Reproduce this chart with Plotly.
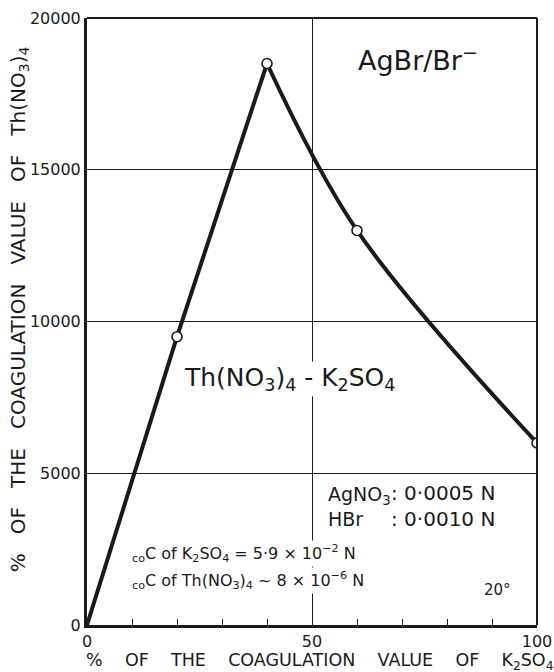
import plotly.graph_objects as go

# data
k2so4_pct = [0, 20, 40, 60, 100]
th_pct = [0, 9500, 18500, 13000, 6000]

x_ticks = [0, 50, 100]
y_ticks = [0, 5000, 10000, 15000, 20000]

FONT = "DejaVu Sans"
INK = "#1a1a1a"
SP3 = "&nbsp;" * 3
SP4 = "&nbsp;" * 4

fig = go.Figure()

# rising (straight) branch
fig.add_trace(go.Scatter(
    x=k2so4_pct[:3], y=th_pct[:3], mode="lines",
    line=dict(color=INK, width=4),
    hoverinfo="skip", showlegend=False))
# falling (curved) branch
fig.add_trace(go.Scatter(
    x=k2so4_pct[2:], y=th_pct[2:], mode="lines",
    line=dict(color=INK, width=4, shape="spline", smoothing=1.0),
    hoverinfo="skip", showlegend=False))

fig.add_trace(go.Scatter(
    x=k2so4_pct[1:], y=th_pct[1:], mode="markers",
    marker=dict(symbol="circle", size=10, color="white",
                line=dict(color=INK, width=1.6)),
    showlegend=False))

fig.update_xaxes(
    range=[0, 100], tickvals=x_ticks, ticktext=[str(v) for v in x_ticks],
    showgrid=True, gridcolor=INK, gridwidth=1.2,
    showline=True, linecolor=INK, linewidth=3,
    ticks="", zeroline=False, automargin=False,
    minor=dict(dtick=10, ticks="inside", ticklen=6, tickcolor=INK, tickwidth=1.3, showgrid=False),
    tickfont=dict(family=FONT, size=16, color=INK))
fig.update_yaxes(
    range=[0, 20000], tickvals=y_ticks, ticktext=[str(v) for v in y_ticks],
    showgrid=True, gridcolor=INK, gridwidth=1.2,
    showline=True, linecolor=INK, linewidth=3,
    ticks="", zeroline=False, automargin=False,
    tickfont=dict(family=FONT, size=16, color=INK))

# top & right frame lines
fig.add_shape(type="line", xref="paper", yref="paper", x0=0, x1=1, y0=1, y1=1,
              line=dict(color=INK, width=2))
fig.add_shape(type="line", xref="paper", yref="paper", x0=1, x1=1, y0=0, y1=1,
              line=dict(color=INK, width=2))

ann = []
# axis titles
ann.append(dict(xref="paper", yref="paper", x=0, y=0.52, xshift=-68,
                text=f"%{SP3}OF{SP3}THE{SP3}COAGULATION{SP3}VALUE{SP3}OF{SP3}Th(NO<sub>3</sub>)<sub>4</sub>",
                textangle=-90, showarrow=False, xanchor="center", yanchor="middle",
                font=dict(family=FONT, size=20, color=INK)))
ann.append(dict(xref="paper", yref="paper", x=0.5, y=0, xshift=8, yshift=-36,
                text=f"%{SP4}OF{SP4}THE{SP4}COAGULATION{SP4}VALUE{SP4}OF{SP4}K<sub>2</sub>SO<sub>4</sub>",
                showarrow=False, xanchor="center", yanchor="middle",
                font=dict(family=FONT, size=17.5, color=INK)))
# labels
ann.append(dict(x=73.6, y=18650, text="AgBr/Br<sup>−</sup>", showarrow=False,
                xanchor="center", yanchor="middle",
                font=dict(family=FONT, size=27, color=INK)))
ann.append(dict(x=44.9, y=8100, text="Th(NO<sub>3</sub>)<sub>4</sub> - K<sub>2</sub>SO<sub>4</sub>",
                showarrow=False, xanchor="center", yanchor="middle", bgcolor="white",
                font=dict(family=FONT, size=25, color=INK)))
ann.append(dict(x=53.0, y=3920, text="AgNO<sub>3</sub><br>HBr", showarrow=False,
                xanchor="left", yanchor="middle", align="left",
                font=dict(family=FONT, size=19, color=INK)))
ann.append(dict(x=67.0, y=3920, text=": 0·0005 N<br>: 0·0010 N", showarrow=False,
                xanchor="left", yanchor="middle", align="left",
                font=dict(family=FONT, size=20, color=INK)))
ann.append(dict(x=9.6, y=2340,
                text="<sub>co</sub>C of K<sub>2</sub>SO<sub>4</sub> = 5·9 × 10<sup>−2</sup> N",
                showarrow=False, xanchor="left", yanchor="middle", align="left", bgcolor="white",
                font=dict(family=FONT, size=16, color=INK)))
ann.append(dict(x=9.6, y=1480,
                text="<sub>co</sub>C of Th(NO<sub>3</sub>)<sub>4</sub> ~ 8 × 10<sup>−6</sup> N",
                showarrow=False, xanchor="left", yanchor="middle", align="left", bgcolor="white",
                font=dict(family=FONT, size=16, color=INK)))
ann.append(dict(x=91.3, y=1150, text="20°", showarrow=False,
                xanchor="center", yanchor="middle",
                font=dict(family=FONT, size=15, color=INK)))

for a in ann:
    a.setdefault("xref", "x")
    a.setdefault("yref", "y")
fig.update_layout(annotations=ann)

fig.update_layout(
    width=554, height=672,
    margin=dict(l=87, r=17, t=18, b=47, autoexpand=False),
    paper_bgcolor="white", plot_bgcolor="white",
    showlegend=False)

fig.write_html("out.html")
